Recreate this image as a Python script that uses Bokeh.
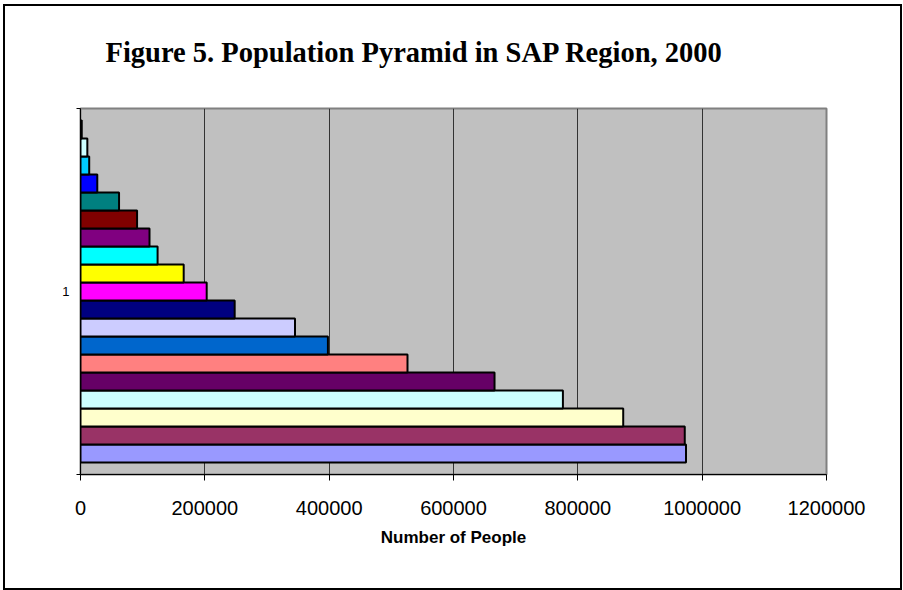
from bokeh.plotting import figure
from bokeh.models import Range1d, FixedTicker, ColumnDataSource, Title
from bokeh.embed import file_html
from bokeh.resources import INLINE

# Population by age band, youngest band first (drawn bottom to top)
categories = ["1"]
population = [974000, 972000, 873000, 776000, 666000, 526000, 398000, 345000,
              248000, 203000, 166000, 124000, 111000, 91000, 62000, 27000,
              14000, 11000, 2000]
bar_colors = ["#9999FF", "#993366", "#FFFFCC", "#CCFFFF", "#660066", "#FF8080",
              "#0066CC", "#CCCCFF", "#000080", "#FF00FF", "#FFFF00", "#00FFFF",
              "#800080", "#800000", "#008080", "#0000FF", "#00CCFF", "#CCFFFF",
              "#CCFFCC"]
x_ticks = [0, 200000, 400000, 600000, 800000, 1000000, 1200000]
x_tick_labels = ["0", "200000", "400000", "600000", "800000", "1000000", "1200000"]
title_text = "Figure 5. Population Pyramid in SAP Region, 2000"

# Series are stacked side by side inside the single category slot [0, 1]
group_fraction = 0.934
n = len(population)
bar_h = group_fraction / n
y_pos = [0.5 - group_fraction / 2 + (i + 0.5) * bar_h for i in range(n)]

src = ColumnDataSource(dict(y=y_pos, right=population, color=bar_colors))

p = figure(width=899, height=586, output_backend="svg", toolbar_location=None,
           x_range=Range1d(0, 1200000), y_range=Range1d(0, 1),
           min_border_left=75, min_border_right=78,
           min_border_top=102, min_border_bottom=118)

# Black frame around the whole chart
p.styles = {"border": "2px solid black", "margin-left": "3px", "margin-top": "4px"}

p.background_fill_color = "#C0C0C0"
p.border_fill_color = "white"
p.outline_line_color = "#808080"
p.outline_line_width = 2

p.hbar(y="y", left=0, right="right", height=bar_h, fill_color="color",
       line_color="black", line_width=2, source=src)

# Blank strip between the title and the plot area
p.add_layout(Title(text=" ", text_font_size="28px", standoff=0), "above")

# Title
p.title.text = title_text
p.title.text_font = "Liberation Serif"
p.title.text_font_style = "bold"
p.title.text_font_size = "28.5px"
p.title.text_color = "black"
p.title.align = "left"
p.title.offset = 25
p.title.standoff = 16

# Value axis
xa = p.xaxis[0]
xa.ticker = FixedTicker(ticks=x_ticks, minor_ticks=[])
xa.major_label_overrides = {t: s for t, s in zip(x_ticks, x_tick_labels)}
xa.major_label_text_font = "Liberation Sans"
xa.major_label_text_font_size = "20px"
xa.major_label_text_color = "black"
xa.major_label_standoff = 20
xa.major_tick_out = 6
xa.major_tick_in = 0
xa.major_tick_line_color = "black"
xa.axis_line_color = "black"
xa.axis_label = "Number of People"
xa.axis_label_text_font = "Liberation Sans"
xa.axis_label_text_font_style = "bold"
xa.axis_label_text_font_size = "17px"
xa.axis_label_text_color = "black"
xa.axis_label_standoff = 10

# Category axis: label centred, tick marks at slot edges
ya = p.yaxis[0]
ya.ticker = FixedTicker(ticks=[0.5], minor_ticks=[0, 1])
ya.major_label_overrides = {0.5: categories[0]}
ya.major_tick_line_color = None
ya.minor_tick_line_color = "black"
ya.minor_tick_out = 4
ya.minor_tick_in = 0
ya.major_label_text_font = "Liberation Sans"
ya.major_label_text_font_size = "13px"
ya.major_label_text_color = "black"
ya.major_label_standoff = 5
ya.axis_line_color = "black"

p.xgrid.ticker = FixedTicker(ticks=x_ticks[1:-1])
p.xgrid.grid_line_color = "#333333"
p.ygrid.visible = False

open("out.html", "w").write(file_html(p, INLINE))
